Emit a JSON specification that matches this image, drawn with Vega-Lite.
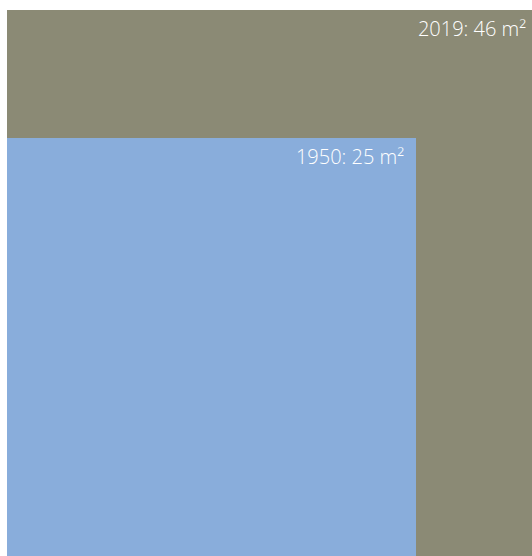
{
  "$schema": "https://vega.github.io/schema/vega-lite/v6.json",
  "width": 525,
  "height": 546,
  "autosize": "none",
  "padding": {"left": 7, "top": 10, "right": 0, "bottom": 0},
  "background": "white",
  "config": {"view": {"stroke": null}},
  "data": {"values": [
    {"year": "2019", "area": 46, "w": 525, "h": 546, "label": "2019: 46 m²"},
    {"year": "1950", "area": 25, "w": 409, "h": 418, "label": "1950: 25 m²"}
  ]},
  "encoding": {
    "x": {"field": "w", "type": "quantitative", "scale": {"domain": [0, 525], "nice": false}, "axis": null},
    "y": {"field": "h", "type": "quantitative", "scale": {"domain": [0, 546], "nice": false}, "axis": null}
  },
  "layer": [
    {
      "mark": {"type": "rect"},
      "encoding": {
        "x2": {"datum": 0},
        "y2": {"datum": 0},
        "color": {"field": "year", "type": "nominal", "scale": {"domain": ["2019", "1950"], "range": ["#8b8a75", "#89addb"]}, "legend": null}
      }
    },
    {
      "transform": [{"filter": "datum.year == '2019'"}],
      "mark": {"type": "text", "align": "right", "baseline": "alphabetic", "dx": -6, "dy": 26, "font": "Open Sans", "fontWeight": 300, "fontSize": 20, "color": "white"},
      "encoding": {
        "text": {"field": "label"}
      }
    },
    {
      "transform": [{"filter": "datum.year == '1950'"}],
      "mark": {"type": "text", "align": "right", "baseline": "alphabetic", "dx": -12, "dy": 26, "font": "Open Sans", "fontWeight": 300, "fontSize": 20, "color": "white"},
      "encoding": {
        "text": {"field": "label"}
      }
    }
  ]
}
